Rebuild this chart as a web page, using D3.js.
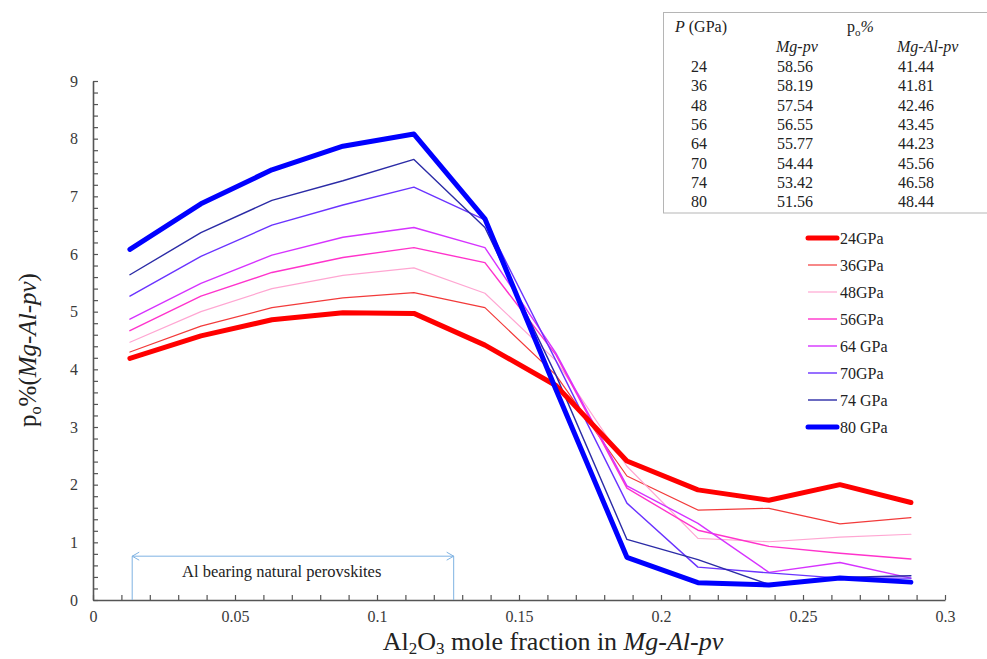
<!DOCTYPE html>
<html>
<head>
<meta charset="utf-8">
<script src="https://cdn.jsdelivr.net/npm/d3@7"></script>
<style>
  html, body { margin: 0; padding: 0; background: #fff; }
  svg, svg text { font-family: "Liberation Serif", "Tinos", "Times New Roman", "DejaVu Serif", serif; }
</style>
</head>
<body>
<svg id="chart" width="987" height="659"></svg>
<script>
// Al2O3 mole fraction in Mg-Al-pv
const alFraction = [0.013, 0.038, 0.063, 0.088, 0.113, 0.138, 0.163, 0.188, 0.213, 0.238, 0.263, 0.288];

// po% (Mg-Al-pv) at each pressure
const po24 = [4.19, 4.58, 4.86, 4.98, 4.97, 4.42, 3.72, 2.41, 1.91, 1.73, 2.00, 1.69];
const po36 = [4.30, 4.75, 5.07, 5.24, 5.33, 5.07, 3.90, 2.15, 1.56, 1.59, 1.32, 1.43];
const po48 = [4.47, 5.00, 5.40, 5.63, 5.76, 5.32, 4.15, 2.32, 1.07, 1.01, 1.09, 1.14];
const po56 = [4.67, 5.27, 5.68, 5.94, 6.11, 5.85, 4.25, 1.94, 1.21, 0.93, 0.81, 0.71];
const po64 = [4.87, 5.49, 5.98, 6.29, 6.46, 6.11, 4.28, 1.98, 1.33, 0.48, 0.65, 0.38];
const po70 = [5.27, 5.96, 6.50, 6.85, 7.16, 6.59, 4.15, 1.68, 0.57, 0.47, 0.38, 0.38];
const po74 = [5.64, 6.37, 6.93, 7.27, 7.64, 6.46, 3.90, 1.05, 0.70, 0.27, 0.39, 0.42];
const po80 = [6.08, 6.87, 7.46, 7.87, 8.08, 6.61, 3.65, 0.74, 0.30, 0.26, 0.38, 0.31];

const seriesNames = ["24GPa", "36GPa", "48GPa", "56GPa", "64 GPa", "70GPa", "74 GPa", "80 GPa"];
const seriesValues = [po24, po36, po48, po56, po64, po70, po74, po80];
const seriesColors = ["#ff0000", "#f23a3a", "#ffa6d2", "#ff33cc", "#d633ff", "#6a33ff", "#2b2ba6", "#0000ff"];
const seriesWidths = [5, 1.2, 1.2, 1.4, 1.4, 1.4, 1.4, 5];

// Inset table: pressure and po% partitioning
const tablePressure = ["24", "36", "48", "56", "64", "70", "74", "80"];
const tableMgPv = ["58.56", "58.19", "57.54", "56.55", "55.77", "54.44", "53.42", "51.56"];
const tableMgAlPv = ["41.44", "41.81", "42.46", "43.45", "44.23", "45.56", "46.58", "48.44"];

// Axis ticks
const xTickLabels = ["0", "0.05", "0.1", "0.15", "0.2", "0.25", "0.3"];
const yTickLabels = ["0", "1", "2", "3", "4", "5", "6", "7", "8", "9"];

const serif = "'Liberation Serif', 'Tinos', 'Times New Roman', 'DejaVu Serif', serif";
const svg = d3.select("#chart").attr("font-family", serif);

const x = d3.scaleLinear().domain([0, 0.3]).range([93, 945]);
const y = d3.scaleLinear().domain([0, 9]).range([600, 81]);

const axisColor = "#555";
const labelColor = "#3a3a3a";

// x axis: minor ticks every 0.01, labels every 0.05
const xTicks = d3.range(0, 31).map(i => +(i * 0.01).toFixed(2));
const xAxis = d3.axisBottom(x)
  .tickValues(xTicks)
  .tickSizeInner(-5).tickSizeOuter(0)
  .tickPadding(11)
  .tickFormat(d => {
    const k = Math.round(d * 100);
    return k % 5 === 0 ? xTickLabels[k / 5] : "";
  });
const gx = svg.append("g").attr("transform", "translate(0,600)").call(xAxis).attr("font-family", serif);
gx.select(".domain").attr("stroke", axisColor).attr("stroke-width", 1.6);
gx.selectAll(".tick line").attr("stroke", axisColor).attr("stroke-width", 1.2);
gx.selectAll(".tick text").attr("fill", labelColor).attr("font-size", 16);

// y axis: minor ticks every 0.2, labels every 1
const yTicks = d3.range(0, 46).map(i => +(i * 0.2).toFixed(1));
const yAxis = d3.axisLeft(y)
  .tickValues(yTicks)
  .tickSizeInner(-5).tickSizeOuter(0)
  .tickPadding(15)
  .tickFormat(d => Number.isInteger(d) ? yTickLabels[d] : "");
const gy = svg.append("g").attr("transform", "translate(93,0)").call(yAxis).attr("font-family", serif);
gy.select(".domain").attr("stroke", axisColor).attr("stroke-width", 1.6);
gy.selectAll(".tick line").attr("stroke", axisColor).attr("stroke-width", 1.2);
gy.selectAll(".tick text").attr("fill", labelColor).attr("font-size", 16);

// Series lines
const line = d3.line().x((d, i) => x(alFraction[i])).y(d => y(d));
const order = [1, 2, 3, 4, 5, 6, 0, 7];
order.forEach(k => {
  svg.append("path")
    .datum(seriesValues[k])
    .attr("d", line)
    .attr("fill", "none")
    .attr("stroke", seriesColors[k])
    .attr("stroke-width", seriesWidths[k])
    .attr("stroke-linejoin", "round")
    .attr("stroke-linecap", "round");
});

// Legend
const legend = svg.append("g").attr("transform", "translate(808,238)");
seriesNames.forEach((name, i) => {
  const g = legend.append("g").attr("transform", `translate(0,${i * 27})`);
  g.append("line")
    .attr("x1", 0).attr("x2", 29).attr("y1", 0).attr("y2", 0)
    .attr("stroke", seriesColors[i]).attr("stroke-width", seriesWidths[i])
    .attr("stroke-linecap", seriesWidths[i] > 2 ? "round" : "butt");
  g.append("text")
    .attr("x", 32).attr("y", 5.5)
    .attr("fill", "#222").attr("font-size", 16)
    .text(name);
});

// Range of Al bearing natural perovskites
const natLo = 0.0138, natHi = 0.127;
const natY = 0.76;
const ann = svg.append("g").attr("stroke", "#7fb3e3").attr("stroke-width", 1).attr("fill", "none");
ann.append("line").attr("x1", x(natLo)).attr("x2", x(natHi)).attr("y1", y(natY)).attr("y2", y(natY));
ann.append("line").attr("x1", x(natLo)).attr("x2", x(natLo)).attr("y1", y(natY)).attr("y2", y(0));
ann.append("line").attr("x1", x(natHi)).attr("x2", x(natHi)).attr("y1", y(natY)).attr("y2", y(0));
ann.append("path").attr("d", `M${x(natLo) + 7},${y(natY) - 4} L${x(natLo)},${y(natY)} L${x(natLo) + 7},${y(natY) + 4}`);
ann.append("path").attr("d", `M${x(natHi) - 7},${y(natY) - 4} L${x(natHi)},${y(natY)} L${x(natHi) - 7},${y(natY) + 4}`);
svg.append("text")
  .attr("x", 182).attr("y", y(natY) + 21)
  .attr("fill", "#222").attr("font-size", 16.5)
  .text("Al bearing natural perovskites");

// Axis titles
const xTitle = svg.append("text")
  .attr("x", 553).attr("y", 650)
  .attr("text-anchor", "middle")
  .attr("fill", "#222").attr("font-size", 26);
xTitle.append("tspan").text("Al");
xTitle.append("tspan").attr("dy", 4).attr("font-size", 17).text("2");
xTitle.append("tspan").attr("dy", -4).text("O");
xTitle.append("tspan").attr("dy", 4).attr("font-size", 17).text("3");
xTitle.append("tspan").attr("dy", -4).text(" mole fraction in ");
xTitle.append("tspan").attr("font-style", "italic").text("Mg-Al-pv");

const yTitle = svg.append("text")
  .attr("transform", "translate(36,350) rotate(-90)")
  .attr("text-anchor", "middle")
  .attr("fill", "#222").attr("font-size", 25);
yTitle.append("tspan").text("p");
yTitle.append("tspan").attr("dy", 5).attr("font-size", 16).text("o");
yTitle.append("tspan").attr("dy", -5).text("%(");
yTitle.append("tspan").attr("font-style", "italic").text("Mg-Al-pv");
yTitle.append("tspan").text(")");

// Inset table
const tbl = svg.append("g");
tbl.append("rect")
  .attr("x", 663.5).attr("y", 12.5).attr("width", 330).attr("height", 200.5)
  .attr("fill", "#fff").attr("stroke", "#b5b5b5").attr("stroke-width", 1);
const fs = 16;
const h1 = tbl.append("text").attr("x", 675).attr("y", 32).attr("fill", "#222").attr("font-size", fs);
h1.append("tspan").attr("font-style", "italic").text("P");
h1.append("tspan").text(" (GPa)");
const h2 = tbl.append("text").attr("x", 847).attr("y", 32).attr("fill", "#222").attr("font-size", fs);
h2.append("tspan").text("p");
h2.append("tspan").attr("dy", 4).attr("font-size", 11).text("o");
h2.append("tspan").attr("dy", -4).attr("font-style", "italic").text("%");
tbl.append("text").attr("x", 776).attr("y", 52).attr("fill", "#222")
  .attr("font-size", fs).attr("font-style", "italic").text("Mg-pv");
tbl.append("text").attr("x", 897).attr("y", 52).attr("fill", "#222")
  .attr("font-size", fs).attr("font-style", "italic").text("Mg-Al-pv");
tablePressure.forEach((p, i) => {
  const yy = 72 + i * 19.3;
  tbl.append("text").attr("x", 691).attr("y", yy).attr("fill", "#222").attr("font-size", fs).text(p);
  tbl.append("text").attr("x", 777).attr("y", yy).attr("fill", "#222").attr("font-size", fs).text(tableMgPv[i]);
  tbl.append("text").attr("x", 898).attr("y", yy).attr("fill", "#222").attr("font-size", fs).text(tableMgAlPv[i]);
});
</script>
</body>
</html>
